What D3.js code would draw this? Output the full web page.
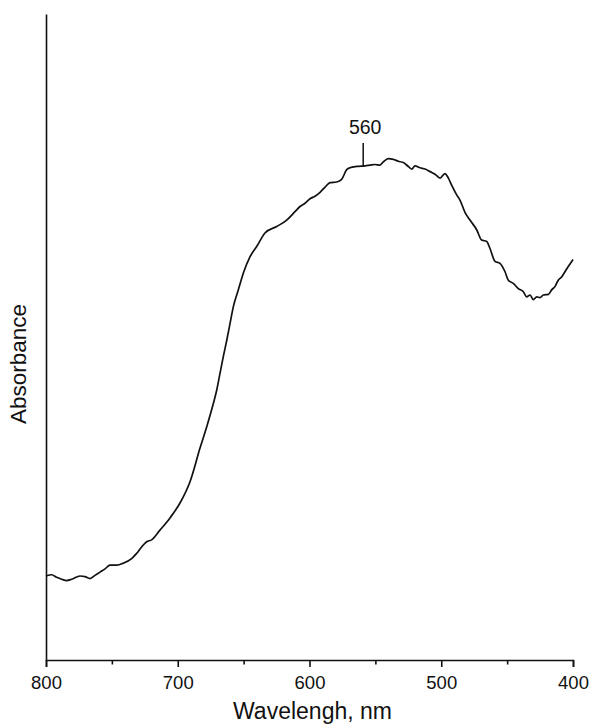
<!DOCTYPE html>
<html>
<head>
<meta charset="utf-8">
<script src="https://cdn.jsdelivr.net/npm/d3@7"></script>
<style>
html,body{margin:0;padding:0;background:#fff;}
svg{display:block;}
text{font-family:Arial,"Liberation Sans",Helvetica,sans-serif;fill:#111;}
</style>
</head>
<body>
<svg id="chart" width="590" height="724"></svg>
<script>
// Wavelength (nm) and absorbance (arbitrary units)
const wavelength = [800,795.7,791.9,788.1,784.3,780.5,774.2,770.4,766.6,762.8,759.0,755.2,751.4,746.3,741.3,735.0,731.2,727.4,723.6,719.8,713.5,705.9,698.3,690.7,683.1,678.0,673.0,670.4,667.9,665.4,662.8,660.3,657.8,654.0,650.2,645.2,640.1,633.8,624.9,617.3,611.0,607.2,603.4,599.6,595.8,592.0,588.2,584.4,579.4,575.6,571.8,569.3,564.2,557.9,554.1,550.3,546.5,544.0,540.2,536.4,532.6,528.8,525.0,522.4,519.9,516.1,512.3,508.5,504.7,500.9,497.2,494.6,492.1,488.3,485.8,482.0,478.2,473.1,469.3,465.5,463.0,459.2,455.4,451.6,449.1,445.3,441.5,437.7,435.1,432.6,430.1,427.6,425.0,422.5,418.7,416.2,413.7,411.2,408.6,406.1,403.6,401.0,400];
const absorbance = [0.130,0.132,0.128,0.125,0.123,0.125,0.130,0.129,0.126,0.131,0.136,0.141,0.147,0.147,0.150,0.157,0.165,0.175,0.183,0.186,0.201,0.220,0.243,0.276,0.328,0.361,0.397,0.418,0.444,0.470,0.495,0.521,0.547,0.573,0.599,0.624,0.640,0.661,0.671,0.681,0.694,0.702,0.707,0.714,0.718,0.724,0.732,0.739,0.740,0.744,0.759,0.762,0.764,0.765,0.766,0.767,0.766,0.771,0.776,0.775,0.772,0.770,0.764,0.760,0.765,0.762,0.760,0.756,0.752,0.746,0.753,0.746,0.735,0.720,0.712,0.693,0.681,0.666,0.650,0.648,0.637,0.617,0.614,0.601,0.588,0.583,0.575,0.570,0.562,0.565,0.558,0.562,0.561,0.565,0.566,0.573,0.578,0.588,0.593,0.601,0.609,0.617,0.620];
const majorTicks = [800,700,600,500,400];
const minorTicks = [750,650,550,450];
const peakLabel = 560;
const xTitle = "Wavelengh, nm";
const yTitle = "Absorbance";

const data = wavelength.map((w,i)=>({w, a: absorbance[i]}));

const svg = d3.select("#chart");
const x = d3.scaleLinear().domain([800,400]).range([46,573]);
const y = d3.scaleLinear().domain([0,1]).range([660,14]);

// X axis
const gx = svg.append("g").attr("transform",`translate(0,${y(0)})`);
gx.call(d3.axisBottom(x).tickValues(majorTicks).tickSize(7).tickPadding(9).tickFormat(d3.format("d")));
const gxm = svg.append("g").attr("transform",`translate(0,${y(0)})`);
gxm.call(d3.axisBottom(x).tickValues(minorTicks).tickSize(4.5).tickFormat(""));
[gx,gxm].forEach(g=>{
  g.select(".domain").attr("stroke","#111").attr("stroke-width",1.6);
  g.selectAll(".tick line").attr("stroke","#111").attr("stroke-width",1.6);
});
gxm.select(".domain").remove();
gx.selectAll(".tick text").attr("font-size",18.5).attr("fill","#111").attr("font-family","Arial, 'Liberation Sans', sans-serif");

// Y axis (no ticks)
const gy = svg.append("g").attr("transform",`translate(${x(800)},0)`);
gy.call(d3.axisLeft(y).tickValues([]).tickSizeOuter(0));
gy.select(".domain").attr("stroke","#111").attr("stroke-width",1.6);

// Curve
const line = d3.line().curve(d3.curveMonotoneX).x(d=>x(d.w)).y(d=>y(d.a));
svg.append("path").datum(data)
  .attr("fill","none").attr("stroke","#111").attr("stroke-width",1.7)
  .attr("stroke-linejoin","round").attr("d",line);

// Peak marker
const sorted = data.slice().sort((p,q)=>p.w-q.w);
const bis = d3.bisector(d=>d.w).left;
const i = bis(sorted, peakLabel);
const p0 = sorted[i-1], p1 = sorted[i];
const aPeak = p0.a + (p1.a-p0.a)*(peakLabel-p0.w)/(p1.w-p0.w);
svg.append("line")
  .attr("x1",x(peakLabel)+1).attr("x2",x(peakLabel)+1)
  .attr("y1",y(aPeak)-23).attr("y2",y(aPeak))
  .attr("stroke","#111").attr("stroke-width",1.5);
svg.append("text")
  .attr("x",x(peakLabel)+3).attr("y",y(aPeak)-32)
  .attr("text-anchor","middle").attr("font-size",19.5)
  .text(String(peakLabel));

// Axis titles
svg.append("text")
  .attr("x",(x(800)+x(400))/2+3).attr("y",719)
  .attr("text-anchor","middle").attr("font-size",23)
  .text(xTitle);
svg.append("text")
  .attr("transform",`translate(26,${(y(0)+y(1))/2+27}) rotate(-90)`)
  .attr("text-anchor","middle").attr("font-size",22.5)
  .text(yTitle);
</script>
</body>
</html>
